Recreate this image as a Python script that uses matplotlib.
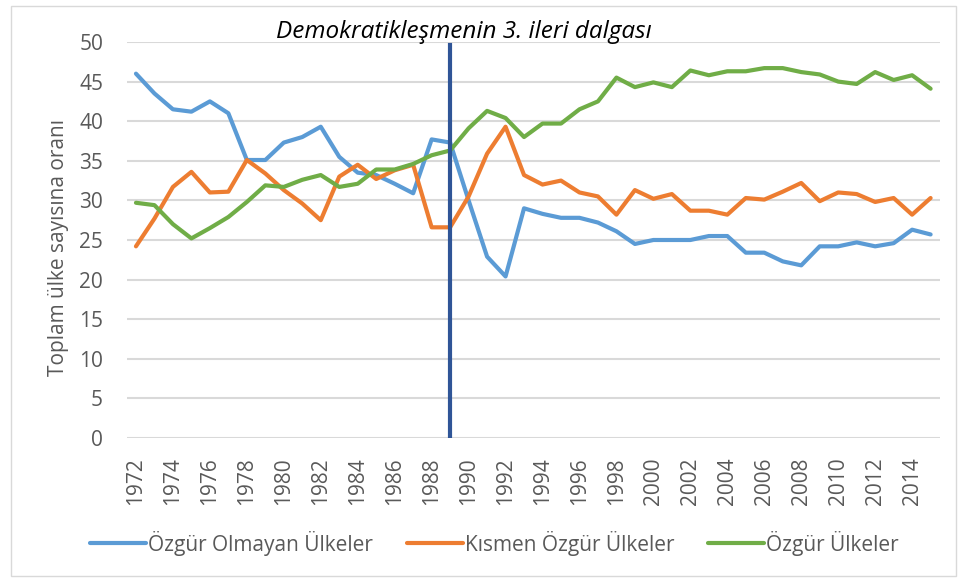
import numpy as np
import matplotlib.pyplot as plt
from matplotlib.patches import Rectangle

# Years on the x axis
years = list(range(1972, 2016))

# Share of countries (%) per group
not_free = [46.0, 43.5, 41.5, 41.2, 42.5, 41.0, 35.1, 35.1, 37.3, 38.0,
            39.3, 35.5, 33.5, 33.2, 32.1, 30.9, 37.7, 37.3, 30.0, 22.9,
            20.4, 29.0, 28.3, 27.8, 27.8, 27.2, 26.1, 24.5, 25.0, 25.0,
            25.0, 25.5, 25.5, 23.4, 23.4, 22.3, 21.8, 24.2, 24.2, 24.7,
            24.2, 24.6, 26.3, 25.7]
partly_free = [24.2, 27.7, 31.7, 33.6, 31.0, 31.1, 35.1, 33.4, 31.3, 29.6,
               27.5, 33.0, 34.5, 32.7, 33.8, 34.5, 26.6, 26.6, 30.5, 35.9,
               39.3, 33.2, 32.0, 32.5, 31.0, 30.5, 28.2, 31.3, 30.2, 30.8,
               28.7, 28.7, 28.2, 30.3, 30.1, 31.1, 32.2, 29.9, 31.0, 30.8,
               29.8, 30.3, 28.2, 30.3]
free = [29.7, 29.4, 27.0, 25.2, 26.5, 27.9, 29.8, 31.9, 31.7, 32.6,
        33.2, 31.7, 32.1, 33.9, 33.9, 34.6, 35.7, 36.3, 39.1, 41.3,
        40.4, 38.0, 39.7, 39.7, 41.5, 42.5, 45.5, 44.3, 44.9, 44.3,
        46.4, 45.8, 46.3, 46.3, 46.7, 46.7, 46.2, 45.9, 45.0, 44.7,
        46.2, 45.2, 45.8, 44.1]

series_names = ["Özgür Olmayan Ülkeler", "Kısmen Özgür Ülkeler", "Özgür Ülkeler"]
colors = ["#5B9BD5", "#ED7D31", "#70AD47"]
wave_year = 1989
wave_label = "Demokratikleşmenin 3. ileri dalgası"

plt.rcParams["font.family"] = ["Open Sans", "DejaVu Sans"]

fig = plt.figure(figsize=(9.6, 5.79), dpi=100)
ax = fig.add_axes([0.132, 0.2435, 0.847, 0.684])

# light border round the chart area
fig.patches.append(Rectangle((0.011, 0.005), 0.985, 0.985, transform=fig.transFigure,
                             fill=False, edgecolor="#d9d9d9", linewidth=1))

lines = []
for values, name, color in zip([not_free, partly_free, free], series_names, colors):
    ln, = ax.plot(years, values, color=color, linewidth=3, label=name,
                  solid_capstyle="round", solid_joinstyle="round")
    lines.append(ln)

ax.plot([wave_year, wave_year], [0, 49.6], color="#2F5597", linewidth=3, zorder=5)
ax.text(wave_year + 0.75, 51.3, wave_label, ha="center", va="center",
        fontsize=17.5, style="italic", color="black", clip_on=False)

ax.set_ylim(0, 50)
ax.set_xlim(1971.5, 2015.5)
ax.set_yticks(range(0, 51, 5))
ax.set_xticks(years[::2])
ax.set_xticklabels([str(y) for y in years[::2]], rotation=90)
ax.tick_params(axis="both", length=0, labelsize=15, labelcolor="#595959")
ax.tick_params(axis="x", pad=14)
ax.tick_params(axis="y", pad=17)
ax.grid(axis="y", color="#d9d9d9", linewidth=1.5)
ax.set_axisbelow(True)
for s in ax.spines.values():
    s.set_visible(False)

ax.set_ylabel("Toplam ülke sayısına oranı", fontsize=15, color="#595959")
ax.yaxis.set_label_coords(-0.071, 0.48)

fig.legend(handles=lines, loc="center", bbox_to_anchor=(0.515, 0.062), ncol=3,
           frameon=False, fontsize=15, labelcolor="#595959", handlelength=2.7,
           handletextpad=0.1, columnspacing=1.6)

plt.savefig("out.png", dpi=100)
